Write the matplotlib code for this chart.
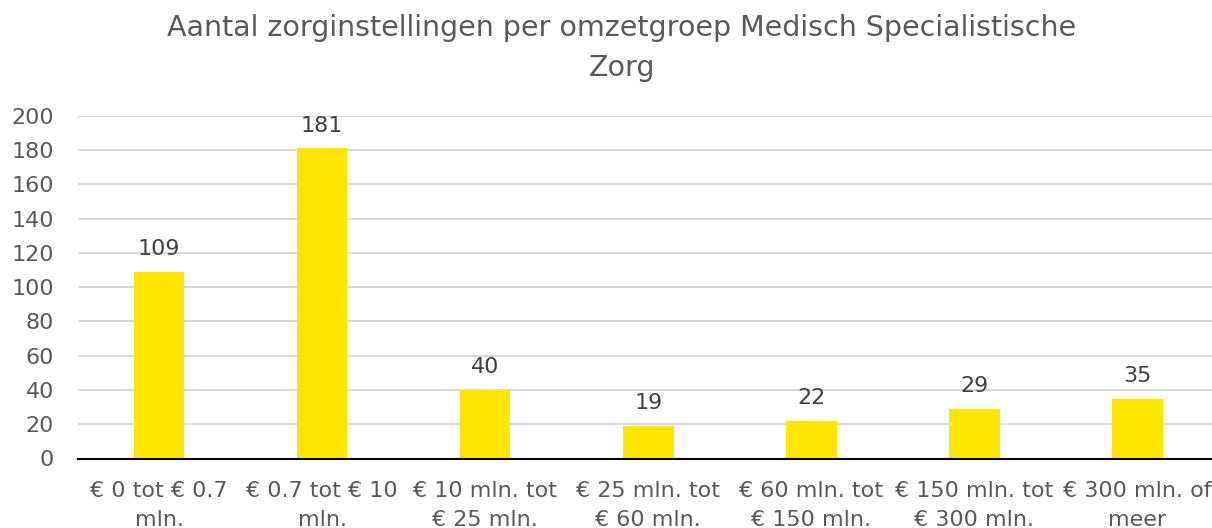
import matplotlib
matplotlib.use("Agg")
import matplotlib.pyplot as plt

categories = ["€ 0 tot € 0.7\nmln.", "€ 0.7 tot € 10\nmln.", "€ 10 mln. tot\n€ 25 mln.",
              "€ 25 mln. tot\n€ 60 mln.", "€ 60 mln. tot\n€ 150 mln.", "€ 150 mln. tot\n€ 300 mln.",
              "€ 300 mln. of\nmeer"]
values = [109, 181, 40, 19, 22, 29, 35]
yticks = [0, 20, 40, 60, 80, 100, 120, 140, 160, 180, 200]
title = "Aantal zorginstellingen per omzetgroep Medisch Specialistische\nZorg"

plt.rcParams['font.family'] = ['DejaVu Sans']
txt = '#595959'

fig = plt.figure(figsize=(12.12, 5.28), dpi=100)
ax = fig.add_axes([77.5/1212, (528-458.5)/528, (1219-77.5)/1212, (458.5-115.7)/528])
x = list(range(len(values)))
ax.bar(x, values, width=0.31, color='#FFE600', zorder=3)
ax.set_xlim(-0.5, len(values) - 0.5)
ax.set_ylim(0, 200)
ax.set_yticks(yticks)
ax.set_yticklabels([str(t) for t in yticks])
ax.set_xticks(x)
ax.set_xticklabels(categories, linespacing=1.55)
ax.grid(axis='y', color='#d9d9d9', linewidth=1.5, zorder=0)
for s in ['top', 'right', 'left']:
    ax.spines[s].set_visible(False)
ax.spines['bottom'].set_color('black')
ax.spines['bottom'].set_linewidth(1.5)
ax.spines['bottom'].set_zorder(4)
ax.tick_params(axis='both', length=0, labelsize=16, colors=txt)
ax.tick_params(axis='y', pad=17)
ax.tick_params(axis='x', pad=16)
for xi, v in zip(x, values):
    ax.annotate(str(v), (xi, v), xytext=(0, 9), textcoords='offset points',
                ha='center', va='bottom', fontsize=16, color='#404040')
fig.text(622/1212, 1 - 48/528, title, ha='center', va='center', fontsize=20.5,
         color=txt, linespacing=1.5)
fig.savefig('out.png', dpi=100)
